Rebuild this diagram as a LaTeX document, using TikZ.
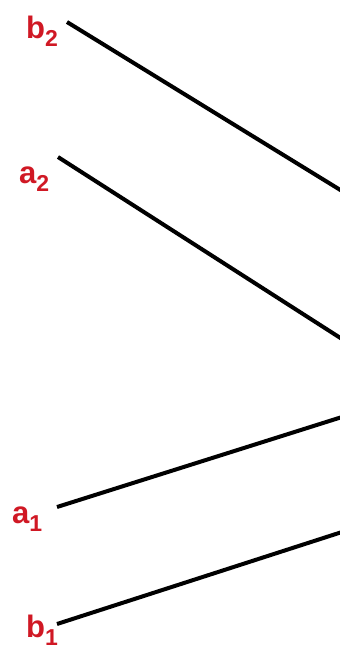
\documentclass[tikz,border=0pt]{standalone}
\usepackage{fontspec}
\setmainfont{Liberation Sans}
\usetikzlibrary{positioning}
\definecolor{lblred}{RGB}{208,24,36}
\newcommand{\ptlbl}[2]{#1\raisebox{-8pt}{\fontsize{23}{23}\selectfont #2}}

\begin{document}
\begin{tikzpicture}[
    x=1pt, y=-1pt,
    lbl/.style={text=lblred, inner sep=0pt, anchor=base west, font=\bfseries\fontsize{31}{32}\selectfont},
    seg/.style={line width=4pt}
]
\useasboundingbox (0,0) rectangle (340,657);

% end labels
\node[lbl] (b2) at (26,38) {\ptlbl{b}{2}};
\node[lbl] (a2) at (19,183) {\ptlbl{a}{2}};
\node[lbl] (a1) at (12,523) {\ptlbl{a}{1}};
\node[lbl] (b1) at (26,637) {\ptlbl{b}{1}};

% segment ends
\coordinate (b2s) at (67,22);
\coordinate (b2e) at (342,191);
\coordinate (a2s) at (58,157);
\coordinate (a2e) at (342,339);
\coordinate (a1s) at (57,507);
\coordinate (a1e) at (342,417);
\coordinate (b1s) at (57,624);
\coordinate (b1e) at (342,532);

\draw[seg] (b2s) -- (b2e);
\draw[seg] (a2s) -- (a2e);
\draw[seg] (a1s) -- (a1e);
\draw[seg] (b1s) -- (b1e);
\end{tikzpicture}
\end{document}
